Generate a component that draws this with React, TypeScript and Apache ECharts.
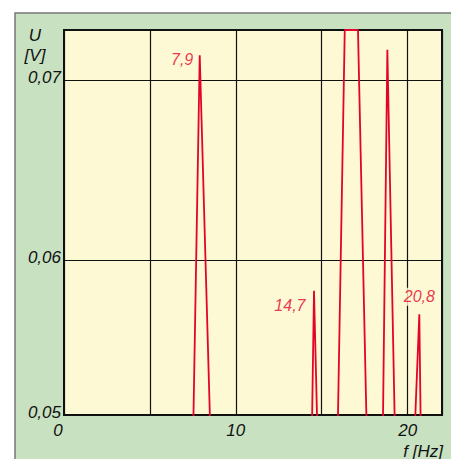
import { useEffect, useRef } from 'react';
import * as echarts from 'echarts';

// Spectrum trace: frequency [Hz] and voltage [V]
const freqHz = [0, 7.51, 7.9, 8.53, 14.42, 14.55, 14.76, 15.92, 16.34, 17.11, 17.63, 18.55, 18.82, 19.27, 20.39, 20.68, 20.77, 22];
const voltV = [0.05, 0.05, 0.0714, 0.05, 0.05, 0.0583, 0.05, 0.05, 0.0728, 0.0728, 0.05, 0.05, 0.0717, 0.05, 0.05, 0.057, 0.05, 0.05];

// Annotated peaks
const peakFreqs = [7.9, 14.55, 20.68];
const peakLabels = ['7,9', '14,7', '20,8'];

// Axes
const xMin = 0;
const xMax = 22;
const xLabelValues = [0, 10, 20];
const xAxisTitle = 'f [Hz]';
const yAxisTitle = 'U\n[V]';
const yMin = 0.0514;
const yMax = 0.0728;
const yLabelValues = [0.0514, 0.06, 0.07];
const yGridValues = [0.055, 0.06, 0.065, 0.07];

const GREEN = '#c8e1c1';
const YELLOW = '#fdf9d5';
const RED = '#e4032c';
const INK = '#111111';
const FONT = '"Liberation Sans", Arial, sans-serif';

export default function App() {
  const ref = useRef<HTMLDivElement>(null);

  useEffect(() => {
    if (!ref.current) return;
    const chart = echarts.init(ref.current, undefined, { renderer: 'svg' });

    const labelStyles: any[] = [
      { position: 'left', distance: 6, offset: [0, 4] },
      { position: 'left', distance: 8, offset: [0, 15] },
      { position: 'top', distance: 8, backgroundColor: YELLOW, padding: [1, 2] },
    ];

    const peakData = peakFreqs.map((f, i) => {
      const idx = freqHz.indexOf(f);
      return {
        value: [f, voltV[idx]],
        label: {
          show: true,
          formatter: peakLabels[i],
          color: RED,
          fontSize: 16,
          fontStyle: 'italic',
          fontFamily: FONT,
          ...labelStyles[i],
        },
      };
    });

    const textBase = { color: INK, fontSize: 17, fontStyle: 'italic', fontFamily: FONT };

    chart.setOption({
      animation: false,
      backgroundColor: '#ffffff',
      graphic: {
        elements: [
          {
            type: 'rect',
            z: -10,
            silent: true,
            shape: { x: 15, y: 13, width: 450, height: 460 },
            style: { fill: GREEN, stroke: '#777777', lineWidth: 1.5 },
          },
          {
            type: 'text',
            z: 10,
            silent: true,
            x: 443,
            y: 451,
            style: {
              text: xAxisTitle,
              fill: INK,
              font: `italic 17px ${FONT}`,
              align: 'right',
              verticalAlign: 'middle',
            },
          },
        ],
      },
      grid: {
        left: 64,
        top: 30,
        right: 9,
        bottom: 44,
        containLabel: false,
        outerBoundsMode: 'none',
        show: true,
        backgroundColor: YELLOW,
        borderColor: INK,
        borderWidth: 2,
      },
      xAxis: {
        type: 'value',
        min: xMin,
        max: xMax,
        interval: 5,
        axisLine: { show: false },
        axisTick: { show: false },
        splitLine: { show: true, lineStyle: { color: INK, width: 1.2 } },
        axisLabel: {
          ...textBase,
          margin: 7,
          formatter: (v: number) => {
            if (!xLabelValues.includes(v)) return '';
            return v === 0 ? '{m|0}' : String(v);
          },
          rich: {
            m: { ...textBase, padding: [0, 12, 0, 0] },
          },
        },
      },
      yAxis: {
        type: 'value',
        min: yMin,
        max: yMax,
        name: yAxisTitle,
        nameLocation: 'end',
        nameGap: 5,
        nameTextStyle: { ...textBase, align: 'center', verticalAlign: 'top', lineHeight: 20, padding: [0, 58, 0, 0] },
        axisLine: { show: false },
        axisTick: { show: false },
        splitLine: { show: false },
        axisLabel: {
          ...textBase,
          margin: 3,
          lineHeight: 6,
          verticalAlign: 'bottom',
          customValues: yLabelValues,
          formatter: (v: number) => v.toFixed(2).replace('.', ','),
        },
      },
      series: [
        {
          type: 'line',
          data: [],
          silent: true,
          markLine: {
            z: 1,
            silent: true,
            symbol: 'none',
            label: { show: false },
            lineStyle: { color: INK, width: 1.2, type: 'solid' },
            data: yGridValues.map((y) => ({ yAxis: y })),
          },
        },
        {
          type: 'line',
          z: 3,
          data: freqHz.map((f, i) => [f, voltV[i]]),
          showSymbol: false,
          symbol: 'none',
          clip: true,
          lineStyle: { color: RED, width: 1.8 },
        },
        {
          type: 'scatter',
          z: 4,
          data: peakData,
          symbolSize: 1,
          itemStyle: { color: 'rgba(0,0,0,0)' },
        },
      ],
    });

    return () => chart.dispose();
  }, []);

  return <div ref={ref} style={{ position: 'fixed', left: 0, top: 0, width: 451, height: 459 }} />;
}
